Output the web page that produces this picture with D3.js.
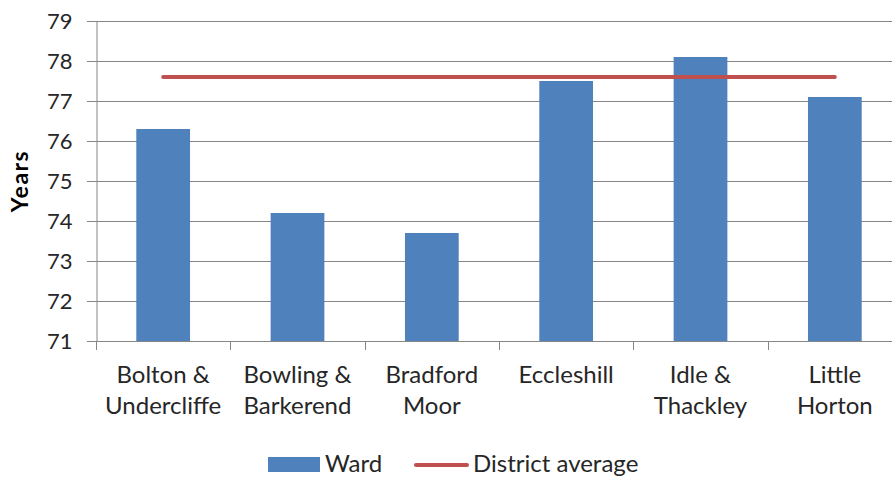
<!DOCTYPE html>
<html lang="en">
<head>
    <meta charset="UTF-8">
    <title>Life expectancy by ward</title>
    <script src="https://d3js.org/d3.v7.min.js"></script>
    <style>
        body { margin: 0; background: #fff; }
        svg text { font-family: Lato, "Open Sans", sans-serif; fill: #262626; }
    </style>
</head>
<body>
<svg id="chart"></svg>
<script>
    const width = 892;
    const height = 477;

    // data
    var wards = [["Bolton &", "Undercliffe"], ["Bowling &", "Barkerend"], ["Bradford", "Moor"],
                 ["Eccleshill"], ["Idle &", "Thackley"], ["Little", "Horton"]];
    var wardValues = [76.3, 74.2, 73.7, 77.5, 78.1, 77.1];
    var districtAverage = [77.6, 77.6, 77.6, 77.6, 77.6, 77.6];
    var yTicks = [71, 72, 73, 74, 75, 76, 77, 78, 79];

    const margin = {top: 21, right: -10, bottom: 136, left: 96};

    const svg = d3.select("#chart")
        .attr("width", width)
        .attr("height", height);

    const x = d3.scaleBand()
        .domain(d3.range(wards.length))
        .range([margin.left, width - margin.right])
        .paddingInner(0.6)
        .paddingOuter(0.3);

    const xEdges = d3.scaleBand()
        .domain(d3.range(wards.length))
        .range([margin.left, width - margin.right]);

    const y = d3.scaleLinear()
        .domain([71, 79])
        .range([height - margin.bottom, margin.top]);

    // gridlines
    svg.append("g")
        .attr("stroke", "#868686")
        .attr("stroke-width", 1)
        .selectAll("line")
        .data(yTicks)
        .join("line")
        .attr("x1", margin.left - 9)
        .attr("x2", width)
        .attr("y1", d => Math.round(y(d)) + 0.5)
        .attr("y2", d => Math.round(y(d)) + 0.5);

    // y axis
    const yAxis = svg.append("g")
        .attr("transform", `translate(${margin.left + 0.5},0)`)
        .call(d3.axisLeft(y).tickValues(yTicks).tickSize(0).tickPadding(24).tickFormat(d3.format("d")));
    yAxis.select(".domain").attr("stroke", "#868686");
    yAxis.selectAll("text").attr("font-size", 22);

    // x ticks between categories
    svg.append("g")
        .attr("stroke", "#868686")
        .selectAll("line")
        .data(d3.range(wards.length))
        .join("line")
        .attr("x1", d => Math.round(xEdges(d)) + 0.5)
        .attr("x2", d => Math.round(xEdges(d)) + 0.5)
        .attr("y1", y(71))
        .attr("y2", y(71) + 9);

    // bars
    svg.append("g")
        .selectAll("rect")
        .data(wardValues)
        .join("rect")
        .attr("x", (d, i) => x(i))
        .attr("width", x.bandwidth())
        .attr("y", d => y(d))
        .attr("height", d => y(71) - y(d))
        .attr("fill", "#4f81bd");

    // district average line
    const line = d3.line()
        .x((d, i) => xEdges(i) + xEdges.bandwidth() / 2)
        .y(d => y(d));

    svg.append("path")
        .datum(districtAverage)
        .attr("fill", "none")
        .attr("stroke", "#c0504d")
        .attr("stroke-width", 4)
        .attr("stroke-linecap", "round")
        .attr("d", line);

    // category labels
    const labels = svg.append("g")
        .selectAll("text")
        .data(wards)
        .join("text")
        .attr("text-anchor", "middle")
        .attr("font-size", 24)
        .attr("x", (d, i) => xEdges(i) + xEdges.bandwidth() / 2)
        .attr("y", y(71) + 42);
    labels.selectAll("tspan")
        .data(d => d)
        .join("tspan")
        .attr("x", function () { return d3.select(this.parentNode).attr("x"); })
        .attr("dy", (d, i) => i === 0 ? 0 : 31)
        .text(d => d);

    // y title
    svg.append("text")
        .attr("transform", `translate(28,${(y(71) + y(79)) / 2}) rotate(-90)`)
        .attr("text-anchor", "middle")
        .attr("font-size", 23)
        .attr("font-weight", "bold")
        .attr("letter-spacing", 1.5)
        .style("fill", "#000")
        .text("Years");

    // legend
    const legend = svg.append("g");
    legend.append("rect")
        .attr("x", 268).attr("y", 457)
        .attr("width", 52).attr("height", 15)
        .attr("fill", "#4f81bd");
    legend.append("text")
        .attr("x", 325).attr("y", 472)
        .attr("font-size", 24)
        .text("Ward");
    legend.append("line")
        .attr("x1", 416).attr("x2", 467)
        .attr("y1", 465).attr("y2", 465)
        .attr("stroke", "#c0504d")
        .attr("stroke-width", 4)
        .attr("stroke-linecap", "round");
    legend.append("text")
        .attr("x", 473).attr("y", 472)
        .attr("font-size", 24)
        .text("District average");
</script>
</body>
</html>
